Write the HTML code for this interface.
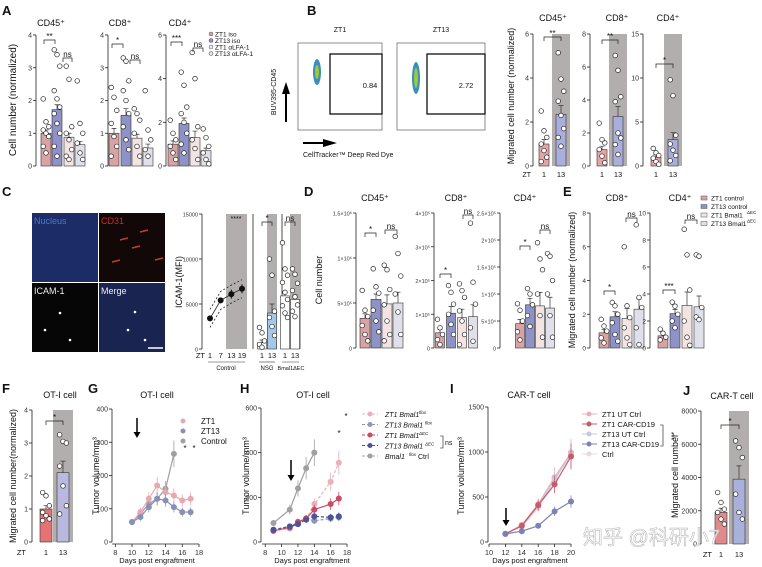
<!DOCTYPE html>
<html><head><meta charset="utf-8">
<style>
body{margin:0;background:#fff;}
svg{display:block;font-family:"Liberation Sans","Noto Sans CJK SC",sans-serif;}
</style></head>
<body>
<svg id="fig" width="762" height="567" viewBox="0 0 762 567" xmlns="http://www.w3.org/2000/svg"></svg>
<script>
// ---------- DATA ----------
const A_cd45_means=[1.0,1.72,0.88,0.65];
const A_cd45_sems=[0.1,0.15,0.12,0.1];
const A_cd45_dots=[[2.05,1.35,1.2,1.1,1.0,0.9,0.6,0.4],[3.55,3.4,3.05,2.3,2.05,1.8,1.6,1.3,1.0,0.6,0.3],[3.05,2.65,1.2,1.0,0.8,0.5,0.3,0.2],[2.6,1.3,1.0,0.7,0.4,0.2]];
const A_cd8_means=[1.0,1.55,0.85,0.55];
const A_cd8_sems=[0.15,0.2,0.12,0.12];
const A_cd8_dots=[[2.4,2.1,1.7,1.3,0.9,0.6,0.3],[3.3,3.2,2.6,2.3,2.0,1.6,1.2,0.8,0.5],[1.75,1.6,1.4,1.0,0.6,0.3],[2.3,1.1,0.8,0.5,0.3]];
const A_cd4_means=[1.0,1.95,1.3,0.7];
const A_cd4_sems=[0.15,0.25,0.3,0.12];
const A_cd4_dots=[[2.1,1.5,1.2,0.9,0.6,0.3],[4.3,3.7,2.7,2.4,2.0,1.5,1.0,0.6],[5.2,4.0,1.8,1.2,0.8,0.3],[1.7,1.3,0.9,0.6,0.3,0.1]];
const A_legend=["ZT1 iso","ZT13 iso","ZT1 αLFA-1","ZT13 αLFA-1"];

const B_cd45_means=[1.0,2.35];const B_cd45_sems=[0.2,0.4];
const B_cd45_dots=[[2.5,1.6,1.3,1.0,0.7,0.4,0.2],[5.15,3.95,3.4,2.95,2.3,1.7,1.3,0.9]];
const B_cd8_means=[1.0,3.0];const B_cd8_sems=[0.2,0.6];
const B_cd8_dots=[[2.6,1.6,1.4,1.0,0.6,0.2],[6.7,5.8,4.2,3.9,2.0,1.7,1.3,0.7]];
const B_cd4_means=[1.0,3.0];const B_cd4_sems=[0.3,0.8];
const B_cd4_dots=[[2.0,1.5,1.2,0.9,0.5,0.2],[9.8,8.0,3.5,2.5,1.8,1.2,0.6]];
const B_flowVals=["0.84","2.72"];

const C_zt=[1,7,13,19];const C_mfi=[3400,5400,6100,6700];const C_mfiSem=[300,300,500,500];
const C_nsg_means=[700,4000];const C_nsg_sems=[300,1000];
const C_nsg_dots=[[2400,1800,900,500,200],[10000,8200,4200,3500,2500,1500]];
const C_bm_means=[5900,5500];const C_bm_sems=[500,500];
const C_bm_dots=[[11800,8900,8200,7400,6300,5500,4800,4000,3500],[8900,8300,7300,6500,5800,4900,4200,3600]];

const D_cd45_means=[330000,540000,490000,500000];const D_cd45_sems=[50000,60000,100000,120000];
const D_cd45_dots=[[640000,420000,350000,250000,150000,80000],[880000,680000,610000,420000,300000,180000],[920000,870000,650000,480000,300000,150000,80000],[1240000,1050000,800000,600000,400000,150000]];
const D_cd8_means=[45000,103000,90000,93000];const D_cd8_sems=[10000,20000,25000,35000];
const D_cd8_dots=[[85000,60000,40000,25000,10000],[185000,165000,130000,100000,70000,40000],[190000,170000,150000,110000,80000,40000,10000],[370000,195000,130000,60000,20000]];
const D_cd4_means=[45000,80000,78000,74000];const D_cd4_sems=[8000,12000,25000,20000];
const D_cd4_dots=[[82000,70000,50000,30000,15000],[110000,100000,80000,60000,40000],[195000,165000,145000,100000,60000,20000],[175000,170000,125000,100000,60000,20000]];
const E_cd8_means=[0.9,1.85,1.75,2.3];const E_cd8_sems=[0.2,0.3,0.6,0.6];
const E_cd8_dots=[[1.7,1.3,1.0,0.6,0.3],[2.7,2.5,2.0,1.5,0.8,0.4],[6.0,2.5,1.8,1.2,0.6,0.2],[7.3,3.0,2.4,1.2,0.2]];
const E_cd4_means=[0.9,2.55,3.15,3.05];const E_cd4_sems=[0.2,0.3,1.0,0.8];
const E_cd4_dots=[[1.4,1.1,0.8,0.6],[3.4,3.1,2.5,2.0,1.5],[8.8,6.9,4.3,2.0,0.8,0.2],[6.9,6.8,3.0,2.3,2.1]];
const DE_legend=["ZT1 control","ZT13 control","ZT1 Bmal1","ZT13 Bmal1"];

const F_means=[1.0,2.1];const F_sems=[0.1,0.35];
const F_dots=[[1.5,1.4,1.1,0.9,0.8,0.7,0.65],[3.25,3.05,3.0,2.3,1.7,1.1,0.85]];

const G_days=[10,11,12,13,14,15,16,17];
const G_zt1=[60,90,130,170,150,140,125,130];
const G_zt13=[60,75,105,130,125,105,90,90];
const G_ctrlDays=[10,11,12,13,14,15];
const G_ctrl=[60,85,115,130,160,265];

const H_days=[9,11,12,13,14,16,17];
const H_zt1flox=[50,60,85,100,170,270,355];
const H_zt13flox=[55,65,80,105,95,105,110];
const H_zt1dec=[50,65,90,105,145,170,195];
const H_zt13dec=[55,70,80,100,115,110,115];
const H_ctrlDays=[9,11,12,13,14];
const H_ctrl=[85,145,240,330,400];

const I_days=[12,14,16,18,20];
const I_zt1ut=[90,190,420,720,990];
const I_zt1car=[90,180,410,640,950];
const I_zt13ut=[90,180,400,700,970];
const I_zt13car=[90,120,180,340,450];
const I_ctrl=[90,170,380,680,1000];

const J_means=[1900,3900];const J_sems=[250,800];
const J_dots=[[3100,2500,2100,1900,1500,1200],[6200,5800,5200,3000,1900,1500]];

// ---------- HELPERS ----------
const NS="http://www.w3.org/2000/svg";
const svg=document.getElementById('fig');
let TICKFS=7;
function mk(tag,a,txt){const e=document.createElementNS(NS,tag);for(const k in a)e.setAttribute(k,a[k]);if(txt!==undefined)e.textContent=txt;svg.appendChild(e);return e;}
function txt(x,y,s,size,anchor,extra){const e=mk('text',Object.assign({x:x,y:y,'font-size':size,'text-anchor':anchor||'middle',fill:'#111'},extra||{}),s);return e;}
function letter(x,y,s){const e=txt(x,y,s,13,'start',{'font-weight':'bold'});

}
function ytitle(x,y,s,size){const e=txt(x,y,s,size||9,'middle',{transform:'rotate(-90 '+x+' '+y+')'});

}

function yAxis(ax,yb,yt,max,ticks,labels,name){
 const sc=v=>yb-(v/max)*(yb-yt);
 const l=mk('line',{x1:ax,y1:yb,x2:ax,y2:yt,stroke:'#222','stroke-width':0.8});
 
 
 ticks.forEach((t,i)=>{mk('line',{x1:ax-3,x2:ax,y1:sc(t),y2:sc(t),stroke:'#222','stroke-width':0.8});
  const tl=txt(ax-4,sc(t)+2.5,labels[i],TICKFS,'end',{fill:'#333'});
  
  });
 return sc;}

function bars(name,ax,yb,yt,max,ticks,labels,xs,w,means,sems,dots,fills,shade){
 if(shade){const s=mk('rect',{x:shade[0],y:yt,width:shade[1]-shade[0],height:yb-yt,fill:'#b3aeae'});
  
  }
 const sc=yAxis(ax,yb,yt,max,ticks,labels,name);
 means.forEach((m,i)=>{
  const r=mk('rect',{x:xs[i]-w/2,y:sc(m),width:w,height:yb-sc(m),fill:fills[i],stroke:'#333','stroke-width':0.6});
  
  
  const eb=mk('path',{d:'M'+xs[i]+' '+sc(m)+'V'+sc(m+sems[i])+'M'+(xs[i]-2.5)+' '+sc(m+sems[i])+'H'+(xs[i]+2.5),stroke:'#333','stroke-width':0.7,fill:'none'});
  
  
  dots[i].forEach((v,j)=>{const dx=((j%3)-1)*w*0.28;
   const c=mk('circle',{cx:xs[i]+dx,cy:sc(v),r:2.3,fill:'#fff',stroke:'#222','stroke-width':0.7});
   
   });
 });
 return sc;}

function sig(x1,x2,y,s){mk('path',{d:'M'+x1+' '+(y+4)+'V'+y+'H'+x2+'V'+(y+4),stroke:'#222','stroke-width':0.7,fill:'none'});
 const t=txt((x1+x2)/2,y-1,s,8,'middle');
 
 }

function lineSeries(name,xs,ys,sx,sy,color,dash,errs){
 const d=xs.map((x,i)=>(i?'L':'M')+sx(x)+' '+sy(ys[i])).join('');
 const p=mk('path',{d:d,stroke:color,'stroke-width':1.2,fill:'none','stroke-dasharray':dash||'none'});
 
 
 xs.forEach((x,i)=>{const e=errs?errs[i]:ys[i]*0.15;
  mk('line',{x1:sx(x),x2:sx(x),y1:sy(ys[i]-e),y2:sy(ys[i]+e),stroke:color,'stroke-width':0.8});
  const c=mk('circle',{cx:sx(x),cy:sy(ys[i]),r:3,fill:color});
  
  });}

function xAxis(name,yb,x0,x1,min,max,ticks){
 const sx=v=>x0+(v-min)/(max-min)*(x1-x0);
 const l=mk('line',{x1:x0,x2:x1,y1:yb,y2:yb,stroke:'#222','stroke-width':0.8});
 
 
 ticks.forEach(t=>{mk('line',{x1:sx(t),x2:sx(t),y1:yb,y2:yb+3,stroke:'#222','stroke-width':0.8});
  const tl=txt(sx(t),yb+11,String(t),7.5,'middle',{fill:'#333'});
  
  });
 return sx;}
function arrow(x,y1,y2){mk('line',{x1:x,x2:x,y1:y1,y2:y2-5,stroke:'#000','stroke-width':1.5});
 const a=mk('path',{d:'M'+(x-3.5)+' '+(y2-6)+'L'+(x+3.5)+' '+(y2-6)+'L'+x+' '+y2+'Z',fill:'#000'});
 
 }

const c4=['#d9a3a3','#8e92c6','#f3e3e3','#e0e0ea'];
const c2=['#e5a4a4','#aaaedd'];

// ---------- PANEL A ----------
letter(2,15,'A');
ytitle(16,100,'Cell number (normalized)',10);
txt(51,26,'CD45⁺',9);
bars('a-cd45',36,166,35,4,[0,1,2,3,4],['0','1','2','3','4'],[46,57,69,80],10,A_cd45_means,A_cd45_sems,A_cd45_dots,c4);
sig(44,55,40,'**');sig(63,72,58,'ns');
txt(120,26,'CD8⁺',9);
bars('a-cd8',108,166,35,4,[0,1,2,3,4],['0','1','2','3','4'],[114,126,137,148],10,A_cd8_means,A_cd8_sems,A_cd8_dots,c4);
sig(112,123,44,'*');sig(130,140,60,'ns');
txt(180,26,'CD4⁺',9);
bars('a-cd4',166,166,35,6,[0,2,4,6],['0','2','4','6'],[173,184,195,206],10,A_cd4_means,A_cd4_sems,A_cd4_dots,c4);
sig(171,182,42,'***');sig(193,203,48,'ns');
A_legend.forEach((s,i)=>{const c=mk('circle',{cx:211,cy:34+i*6.5,r:2,fill:c4[i],stroke:'#555','stroke-width':0.5});
 
 
 const t=txt(215,36.5+i*6.5,s,6.5,'start');
 
 });

// ---------- PANEL B ----------
letter(307,15,'B');
[[298,382,'ZT1',330,B_flowVals[0],370],[397,485,'ZT13',427,B_flowVals[1],466]].forEach((f,i)=>{
 const t=txt((f[0]+f[1])/2,32,f[2],7);
 
 
 const b=mk('rect',{x:f[0],y:43,width:f[1]-f[0],height:87,fill:'#fff',stroke:'#444','stroke-width':0.6});
 
 
 const blob=mk('ellipse',{cx:f[0]+19,cy:i?78:72,rx:4,ry:i?16:13,fill:'#3a8fc0'});
 
 
 mk('ellipse',{cx:f[0]+19,cy:i?78:72,rx:2,ry:i?10:7,fill:'#9ec83a'});
 const g=mk('rect',{x:f[3],y:54,width:f[1]-f[3],height:60,fill:'none',stroke:'#111','stroke-width':1.3});
 
 
 const v=txt(f[5],88,f[4],7.5);
 
 });
ytitle(276,92,'BUV395-CD45',7);
mk('line',{x1:286,x2:286,y1:122,y2:92,stroke:'#000','stroke-width':2});
mk('path',{d:'M282 94L290 94L286 82Z',fill:'#000'});
mk('line',{x1:303,x2:325,y1:143,y2:143,stroke:'#000','stroke-width':2});
mk('path',{d:'M323 139L323 147L337 143Z',fill:'#000'});
txt(303,157,'CellTracker™ Deep Red Dye',7,'start');
ytitle(514,96,'Migrated cell number (normalized)',9);
txt(553,21,'CD45⁺',9);
bars('b-cd45',533,166,34,6,[0,2,4,6],['0','2','4','6'],[544,561],10,B_cd45_means,B_cd45_sems,B_cd45_dots,c2,[552,570]);
sig(544,561,37,'**');
txt(617,21,'CD8⁺',9);
bars('b-cd8',590,166,34,8,[0,2,4,6,8],['0','2','4','6','8'],[602,618],10,B_cd8_means,B_cd8_sems,B_cd8_dots,c2,[609,627]);
sig(602,618,40,'**');
txt(668,21,'CD4⁺',9);
bars('b-cd4',643,166,34,15,[0,5,10,15],['0','5','10','15'],[656,673],10,B_cd4_means,B_cd4_sems,B_cd4_dots,c2,[664,682]);
sig(656,673,64,'*');
[[544,561],[602,618],[656,673]].forEach(g=>{txt(g[0],177,'1',7.5);txt(g[1],177,'13',7.5);});
txt(531,177,'ZT',7,'end');

// ---------- PANEL C ----------
letter(2,196,'C');
const tiles=[[32,213,'#1c2c66','Nucleus','#4a7ac8'],[99,213,'#120808','CD31','#c03030'],[32,283,'#060606','ICAM-1','#eee'],[99,283,'#1a2450','Merge','#eee']];
tiles.forEach(t=>{const r=mk('rect',{x:t[0],y:t[1],width:66,height:69,fill:t[2]});
 
 
 const l=txt(t[0]+2,t[1]+11,t[3],9,'start',{fill:t[4]});
 
 });
[[120,240],[140,232],[155,260],[112,262],[132,248]].forEach(p=>mk('line',{x1:p[0],y1:p[1],x2:p[0]+8,y2:p[1]-2,stroke:'#c83838','stroke-width':1.5}));
[[60,313],[45,330],[70,340],[135,312],[128,330],[145,340]].forEach(p=>mk('circle',{cx:p[0],cy:p[1],r:1.3,fill:'#fff'}));
mk('line',{x1:148,x2:163,y1:348,y2:348,stroke:'#fff','stroke-width':1.5});
ytitle(182,282,'ICAM-1(MFI)',9);
const cshade=mk('rect',{x:226,y:214,width:21,height:135,fill:'#b3aeae'});


TICKFS=5.5;
const cy=yAxis(202,349,214,15000,[0,5000,10000,15000],['0','5000','10000','15000'],'c-icam');
const cx=v=>210+(v-1)/18*32;
[0,-1000,1000].forEach(o=>{const p=mk('path',{d:C_zt.map((z,i)=>(i?'L':'M')+cx(z)+' '+cy(C_mfi[i]+o)).join(''),stroke:'#222','stroke-width':0.8,fill:'none','stroke-dasharray':o?'2,2':'none'});
 
 });
C_zt.forEach((z,i)=>{mk('line',{x1:cx(z),x2:cx(z),y1:cy(C_mfi[i]-C_mfiSem[i]),y2:cy(C_mfi[i]+C_mfiSem[i]),stroke:'#111'});
 const c=mk('circle',{cx:cx(z),cy:cy(C_mfi[i]),r:3,fill:'#111'});
 
 
 txt(cx(z),358,String(z),7.5);});
txt(205,358,'ZT',7.5,'end');
txt(236,221,'****',7);
bars('c-nsg',253,349,214,15000,[],[],[262,272],9,C_nsg_means,C_nsg_sems,C_nsg_dots,['#ffffff','#a6c8e8'],[267,277]);
sig(262,272,222,'*');
bars('c-bmal',282,349,214,15000,[],[],[285,295],9,C_bm_means,C_bm_sems,C_bm_dots,['#ffffff','#ffffff'],[290,301]);
sig(285,295,222,'ns');
txt(262,358,'1',7.5);txt(272,358,'13',7.5);txt(285,358,'1',7.5);txt(295,358,'13',7.5);
mk('line',{x1:208,x2:245,y1:362,y2:362,stroke:'#333','stroke-width':0.6});txt(226,370,'Control',6);
mk('line',{x1:259,x2:275,y1:362,y2:362,stroke:'#333','stroke-width':0.6});txt(267,370,'NSG',6);
mk('line',{x1:282,x2:299,y1:362,y2:362,stroke:'#333','stroke-width':0.6});txt(291,370,'Bmal1ΔEC',5.5);

// ---------- PANEL D ----------
letter(304,196,'D');
ytitle(322,280,'Cell number',9);
TICKFS=5.5;
txt(375,201,'CD45⁺',9);
bars('d-cd45',356,348,213,1500000,[0,500000,1000000,1500000],['0','5×10⁵','1×10⁶','1.5×10⁶'],[365,376,387,398],10,D_cd45_means,D_cd45_sems,D_cd45_dots,c4);
sig(365,376,233,'*');sig(385,397,230,'ns');
txt(456,201,'CD8⁺',9);
bars('d-cd8',434,348,213,400000,[0,100000,200000,300000,400000],['0','1×10⁵','2×10⁵','3×10⁵','4×10⁵'],[440,451,462,473],9,D_cd8_means,D_cd8_sems,D_cd8_dots,c4);
sig(440,451,274,'*');sig(463,473,215,'ns');
txt(525,201,'CD4⁺',9);
bars('d-cd4',500,348,213,250000,[0,50000,100000,150000,200000,250000],['0','5×10⁴','1×10⁵','1.5×10⁵','2×10⁵','2.5×10⁵'],[520,530,540,550],9,D_cd4_means,D_cd4_sems,D_cd4_dots,c4);
sig(520,530,246,'*');sig(540,550,230,'ns');

// ---------- PANEL E ----------
TICKFS=6.5;
letter(563,196,'E');
ytitle(575,280,'Migrated cell number (normalized)',9);
txt(617,201,'CD8⁺',9);
bars('e-cd8',590,348,213,8,[0,2,4,6,8],['0','2','4','6','8'],[604,615,627,639],10,E_cd8_means,E_cd8_sems,E_cd8_dots,c4);
sig(604,615,291,'*');sig(626,637,218,'ns');
txt(680,201,'CD4⁺',9);
bars('e-cd4',650,348,213,10,[0,2,4,6,8,10],['0','2','4','6','8','10'],[663,675,687,699],10,E_cd4_means,E_cd4_sems,E_cd4_dots,c4);
sig(663,675,290,'***');sig(685,697,220,'ns');
DE_legend.forEach((s,i)=>{const r=mk('rect',{x:701,y:196+i*8.5,width:6,height:4,fill:c4[i],stroke:'#555','stroke-width':0.5});
 
 
 const t=txt(711,200.5+i*8.5,s,6.5,'start');
 
 
 if(i>1)mk('text',{x:747,y:197+i*8.5,'font-size':4.5,fill:'#111'},'ΔEC');});

// ---------- PANEL F ----------
TICKFS=7;
letter(2,393,'F');
txt(60,398,'OT-I cell',9);
ytitle(16,476,'Migrated cell number(normalized)',9);
bars('f',32,542,410,4,[0,1,2,3,4],['0','1','2','3','4'],[46,63],12,F_means,F_sems,F_dots,['#e57373','#b9b9e0'],[53,73]);
sig(46,63,421,'*');
txt(26,555,'ZT',7.5,'end');txt(46,555,'1',7.5);txt(63,555,'13',7.5);

// ---------- PANEL G ----------
letter(88,393,'G');
txt(157,398,'OT-I cell',9);
ytitle(99,476,'Tumor volume/mm³',9);
const gy=yAxis(112,542,409,400,[0,100,200,300,400],['0','100','200','300','400'],'g');
const gx=xAxis('g',544,112,199,7.6,18,[8,10,12,14,16,18]);
lineSeries('g-control',G_ctrlDays,G_ctrl,gx,gy,'#a0a0a0');
lineSeries('g-zt1',G_days,G_zt1,gx,gy,'#e8a8b0');
lineSeries('g-zt13',G_days,G_zt13,gx,gy,'#8a8fb8');
arrow(137,418,438);
txt(185,451,'*',8);txt(194,451,'*',8);
txt(157,563,'Days post engraftment',7.5);
[['ZT1','#e8a8b0'],['ZT13','#8a8fb8'],['Control','#a0a0a0']].forEach((l,i)=>{
 mk('circle',{cx:183,cy:421+i*10,r:2.5,fill:l[1]});
 const t=txt(201,424+i*10,l[0],8,'start');
 
 });

// ---------- PANEL H ----------
letter(240,393,'H');
txt(313,398,'OT-I cell',9);
ytitle(249,476,'Tumor volume/mm³',9);
const hy=yAxis(261,542,408,600,[0,200,400,600],['0','200','400','600'],'h');
const hx=xAxis('h',544,262,347,7.6,18,[8,10,12,14,16,18]);
lineSeries('h-ctrl',H_ctrlDays,H_ctrl,hx,hy,'#a0a0a0');
lineSeries('h-zt1flox',H_days,H_zt1flox,hx,hy,'#eab0b8','3,2');
lineSeries('h-zt13flox',H_days,H_zt13flox,hx,hy,'#8f97c0','3,2');
lineSeries('h-zt1dec',H_days,H_zt1dec,hx,hy,'#cc4a64');
lineSeries('h-zt13dec',H_days,H_zt13dec,hx,hy,'#4c5498','3,2');
arrow(291,460,481);
txt(339,436,'*',8);txt(346,419,'*',8);
txt(312,563,'Days post engraftment',7.5);
[['#eab0b8','ZT1 Bmal1','flox'],['#8f97c0','ZT13 Bmal1','flox'],['#cc4a64','ZT1 Bmal1','ΔEC'],['#4c5498','ZT13 Bmal1','ΔEC'],['#a0a0a0','Bmal1','flox']].forEach((l,i)=>{
 const y=414+i*10.5;
 mk('line',{x1:362,x2:378,y1:y,y2:y,stroke:l[0],'stroke-dasharray':'3,2'});
 mk('circle',{cx:370,cy:y,r:2.5,fill:l[0]});
 const t=txt(385,y+3,l[1],7,'start',{'font-style':'italic'});
 
 
 mk('text',{x:i==4?409:(i%2?425:419),y:y,'font-size':4.5,fill:'#111','font-style':'italic'},l[2]);
 if(i==4)txt(418,y+3,'Ctrl',7,'start');});
txt(445,445,'ns',7,'start');
mk('path',{d:'M440 436H443V448H440',stroke:'#111',fill:'none','stroke-width':0.6});

// ---------- PANEL I ----------
letter(450,393,'I');
txt(529,398,'CAR-T cell',9);
ytitle(464,476,'Tumor volume/mm³',9);
const iy=yAxis(488,542,407,1500,[0,500,1000,1500],['0','500','1000','1500'],'i');
const ix=xAxis('i',544,489,571,10,20,[10,12,14,16,18,20]);
lineSeries('i-ctrl',I_days,I_ctrl,ix,iy,'#ead8dc');
lineSeries('i-zt1ut',I_days,I_zt1ut,ix,iy,'#e8b0b4');
lineSeries('i-zt13ut',I_days,I_zt13ut,ix,iy,'#c4c8e0');
lineSeries('i-zt1car',I_days,I_zt1car,ix,iy,'#c85a6a');
lineSeries('i-zt13car',I_days,I_zt13car,ix,iy,'#7c82b4');
arrow(506,508,526);
txt(530,563,'Days post engraftment',7.5);
[['#e8b0b4','ZT1 UT Ctrl'],['#c85a6a','ZT1 CAR-CD19'],['#c4c8e0','ZT13 UT Ctrl'],['#7c82b4','ZT13 CAR-CD19'],['#ead8dc','Ctrl']].forEach((l,i)=>{
 const y=414+i*10;
 mk('line',{x1:582,x2:597,y1:y,y2:y,stroke:l[0]});
 mk('circle',{cx:589,cy:y,r:2.5,fill:l[0]});
 const t=txt(602,y+3,l[1],7.5,'start');
 
 });
mk('path',{d:'M660 425H663V446H660',stroke:'#111',fill:'none','stroke-width':0.6});
txt(669,436,'***',7,'middle',{transform:'rotate(90 669 436)'});

// ---------- PANEL J ----------
letter(683,395,'J');
txt(732,399,'CAR-T cell',9);
ytitle(678,476,'Migrated cell number',9);
bars('j',701,544,411,8000,[0,2000,4000,6000,8000],['0','2000','4000','6000','8000'],[721,739],12,J_means,J_sems,J_dots,['#e08b8b','#aab0dc'],[729,749]);
sig(721,739,425,'*');
txt(712,557,'ZT',7.5,'end');txt(721,557,'1',7.5);txt(739,557,'13',7.5);

// watermark
const wm=txt(583,544,'知乎 @科研小7',20,'start',{fill:'#ffffff','fill-opacity':0.75,stroke:'#bbb','stroke-width':0.6});


</script>
</body></html>
